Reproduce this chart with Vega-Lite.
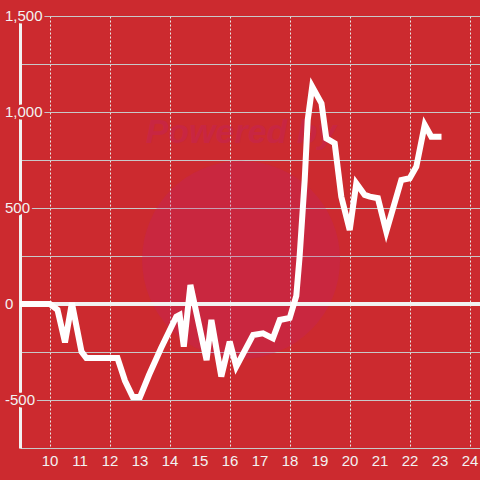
{
  "$schema": "https://vega.github.io/schema/vega-lite/v6.json",
  "width": 460,
  "height": 432,
  "autosize": {"type": "none"},
  "padding": {"left": 20, "top": 16, "right": 0, "bottom": 32},
  "background": "#cc2a2f",
  "config": {
    "view": {"stroke": null},
    "font": "Liberation Sans",
    "axisX": {"grid": true, "gridColor": "#e8e8e8", "gridDash": [2, 2], "gridWidth": 1, "domain": false, "ticks": false, "labels": false},
    "axisY": {"grid": true, "gridColor": "#c8c8c8", "gridWidth": 1, "domain": true, "domainColor": "#f2f2f2", "domainWidth": 3, "ticks": false, "labels": false}
  },
  "datasets": {
    "series": [
      {"h": 9.0, "v": 0}, {"h": 10.0, "v": 0}, {"h": 10.25, "v": -30}, {"h": 10.5, "v": -200},
      {"h": 10.73, "v": 5}, {"h": 11.05, "v": -248}, {"h": 11.21, "v": -281}, {"h": 12.25, "v": -281},
      {"h": 12.5, "v": -400}, {"h": 12.76, "v": -485}, {"h": 13.0, "v": -485}, {"h": 13.3, "v": -370},
      {"h": 13.7, "v": -230}, {"h": 14.21, "v": -66}, {"h": 14.32, "v": -57}, {"h": 14.46, "v": -222},
      {"h": 14.68, "v": 99}, {"h": 15.22, "v": -292}, {"h": 15.38, "v": -83}, {"h": 15.71, "v": -378},
      {"h": 15.99, "v": -196}, {"h": 16.21, "v": -326}, {"h": 16.77, "v": -161}, {"h": 17.1, "v": -153},
      {"h": 17.43, "v": -179}, {"h": 17.66, "v": -83}, {"h": 17.99, "v": -73}, {"h": 18.21, "v": 42},
      {"h": 18.32, "v": 246}, {"h": 18.49, "v": 646}, {"h": 18.59, "v": 958}, {"h": 18.74, "v": 1132},
      {"h": 19.05, "v": 1045}, {"h": 19.21, "v": 863}, {"h": 19.49, "v": 837}, {"h": 19.71, "v": 559},
      {"h": 19.99, "v": 385}, {"h": 20.21, "v": 629}, {"h": 20.49, "v": 568}, {"h": 20.66, "v": 559},
      {"h": 20.93, "v": 551}, {"h": 21.21, "v": 377}, {"h": 21.71, "v": 646}, {"h": 21.99, "v": 655},
      {"h": 22.21, "v": 715}, {"h": 22.49, "v": 933}, {"h": 22.71, "v": 871}, {"h": 23.05, "v": 871}
    ],
    "ylabels": [
      {"v": 1500, "t": "1,500"}, {"v": 1000, "t": "1,000"}, {"v": 500, "t": "500"},
      {"v": 0, "t": "0"}, {"v": -500, "t": "-500"}
    ],
    "xlabels": [
      {"h": 10, "t": "10"}, {"h": 11, "t": "11"}, {"h": 12, "t": "12"}, {"h": 13, "t": "13"},
      {"h": 14, "t": "14"}, {"h": 15, "t": "15"}, {"h": 16, "t": "16"}, {"h": 17, "t": "17"},
      {"h": 18, "t": "18"}, {"h": 19, "t": "19"}, {"h": 20, "t": "20"}, {"h": 21, "t": "21"},
      {"h": 22, "t": "22"}, {"h": 23, "t": "23"}, {"h": 24, "t": "24"}
    ],
    "wm": [{"x": 16.37, "y": 230, "ty": 891, "t": "Powered by"}]
  },
  "layer": [
    {
      "data": {"name": "wm"},
      "mark": {"type": "point", "shape": "circle", "filled": true, "size": 39200, "color": "#c0206e", "opacity": 0.25},
      "encoding": {
        "x": {"field": "x", "type": "quantitative", "scale": {"domain": [9, 24.3333], "nice": false}, "axis": {"values": [10, 11, 12, 13, 14, 15, 16, 17, 18, 19, 20, 21, 22, 23, 24], "title": null}},
        "y": {"field": "y", "type": "quantitative", "scale": {"domain": [-750, 1500], "nice": false}, "axis": {"values": [-750, -500, -250, 0, 250, 500, 750, 1000, 1250, 1500], "title": null}}
      }
    },
    {
      "data": {"name": "wm"},
      "mark": {"type": "text", "fontSize": 34, "fontWeight": "bold", "fontStyle": "italic", "color": "#c0206e", "opacity": 0.3, "align": "center", "baseline": "middle"},
      "encoding": {
        "x": {"field": "x", "type": "quantitative"},
        "y": {"field": "ty", "type": "quantitative"},
        "text": {"field": "t"}
      }
    },
    {
      "data": {"name": "series"},
      "mark": {"type": "rule", "color": "#f2f2f2", "strokeWidth": 3},
      "encoding": {"y": {"datum": 0, "type": "quantitative"}}
    },
    {
      "data": {"name": "series"},
      "mark": {"type": "line", "color": "#ffffff", "strokeWidth": 6, "strokeJoin": "miter", "strokeCap": "butt"},
      "encoding": {
        "x": {"field": "h", "type": "quantitative"},
        "y": {"field": "v", "type": "quantitative"}
      }
    },
    {
      "data": {"name": "xlabels"},
      "mark": {"type": "text", "align": "center", "baseline": "top", "dy": 6, "fontSize": 15, "color": "#f2f2f2"},
      "encoding": {
        "x": {"field": "h", "type": "quantitative"},
        "y": {"datum": -750, "type": "quantitative"},
        "text": {"field": "t"}
      }
    },
    {
      "data": {"name": "ylabels"},
      "mark": {"type": "text", "align": "left", "baseline": "middle", "dx": -15, "fontSize": 15, "fill": "#cc2a2f", "stroke": "#cc2a2f", "strokeWidth": 5},
      "encoding": {
        "x": {"datum": 9, "type": "quantitative"},
        "y": {"field": "v", "type": "quantitative"},
        "text": {"field": "t"}
      }
    },
    {
      "data": {"name": "ylabels"},
      "mark": {"type": "text", "align": "left", "baseline": "middle", "dx": -15, "fontSize": 15, "color": "#f2f2f2"},
      "encoding": {
        "x": {"datum": 9, "type": "quantitative"},
        "y": {"field": "v", "type": "quantitative"},
        "text": {"field": "t"}
      }
    }
  ]
}
